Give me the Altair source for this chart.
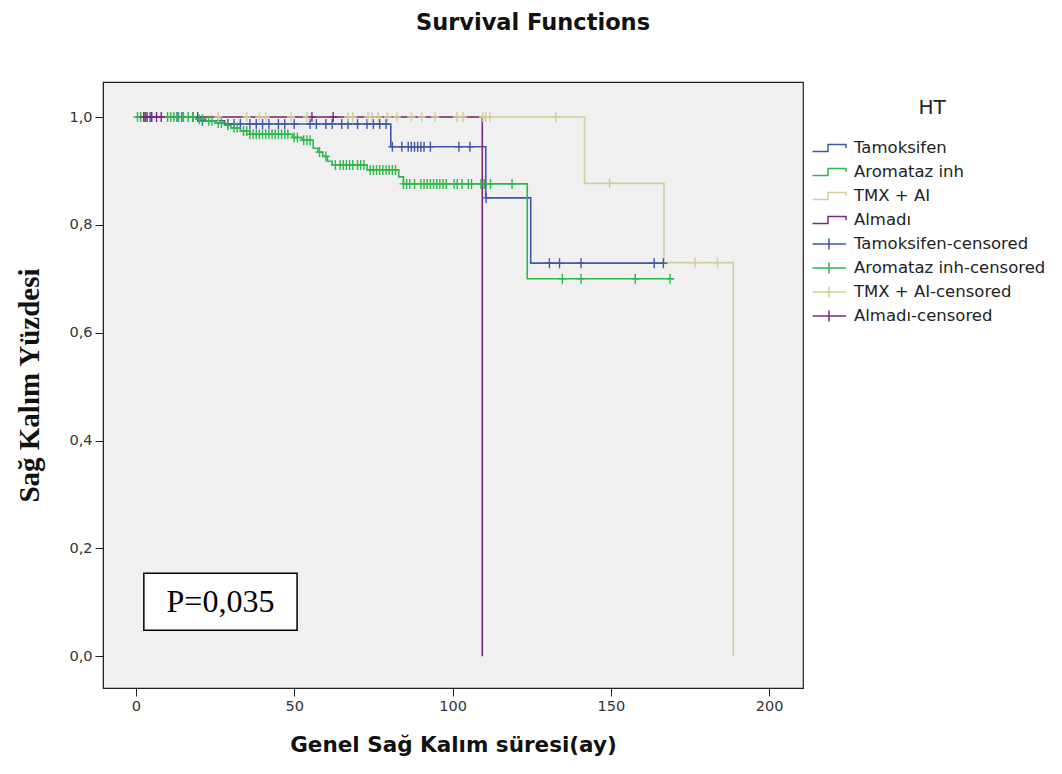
import altair as alt
import pandas as pd

# ---------------- data ----------------
groups = ["Tamoksifen", "Aromataz inh", "TMX + AI", "Almadı"]
colors = ["#3E58AC", "#2EB848", "#D3CE97", "#7C287D"]

tam_t = [0, 21, 28, 80.5, 110.5, 124.7, 167.7]
tam_s = [1.0, 0.993, 0.987, 0.945, 0.850, 0.729, 0.729]

aro_t = [0, 19, 22, 25, 28, 30, 33, 36, 49.5, 52.5, 56, 57.5, 59, 60.5, 62, 73, 83, 84.5, 123.6, 169.8]
aro_s = [1.0, 0.996, 0.993, 0.989, 0.985, 0.980, 0.974, 0.968, 0.962, 0.957, 0.942, 0.935,
         0.927, 0.918, 0.911, 0.902, 0.889, 0.876, 0.700, 0.700]

tmx_t = [0, 141.7, 166.8, 188.7]
tmx_s = [1.0, 0.877, 0.730, 0.0]

alm_t = [0, 109.4]
alm_s = [1.0, 0.0]

tam_cens = [3, 4.5, 13, 14.5, 18, 19.5, 21, 29, 31, 33, 36, 38, 40, 42, 45, 47, 50, 55, 57, 60,
            62, 65, 67, 70, 73, 75, 77, 79, 81, 84, 86, 87, 88, 89, 90, 91, 93, 102, 105.5,
            110.6, 130.6, 133.8, 140.6, 163.7, 166.6]
aro_cens = [0.5, 1.5, 2.5, 10, 11, 12, 13.5, 15, 16.5, 18, 20, 21, 23, 24, 26, 27, 29, 31, 32,
            34, 35, 36, 37, 38, 39, 40, 41, 42, 43, 44, 45, 46, 47, 48, 50, 51, 53, 54, 55, 58,
            60, 63, 64.5, 65.5, 66.5, 67.5, 68.5, 70, 71, 72, 74, 75, 76, 77, 78, 79, 80, 81,
            82, 84.5, 85.5, 86.5, 88, 90, 91, 92, 93, 94, 95, 96, 97, 98, 100.5, 101.5, 103,
            105, 106, 109, 110, 112, 118.8, 134.7, 140.6, 157.7, 168.7]
tmx_cens = [26, 35, 39, 41, 49, 54, 67, 68.5, 73.3, 74.5, 76.5, 79.5, 82.4, 87, 90.3, 94.5,
            101.4, 103.3, 109.6, 110.5, 111.8, 132.6, 149.6, 176.6, 183.7]
alm_cens = [2.5, 3.5, 5, 6.5, 8, 55.6, 62.3]

legend_entries = groups + [g + "-censored" for g in groups]

p_text = "P=0,035"
p_box_x = [2.5, 50.9]
p_box_y = [0.048, 0.154]
p_text_pos = [26.7, 0.101]

# ---------------- tables ----------------
curves = [(tam_t, tam_s), (aro_t, aro_s), (tmx_t, tmx_s), (alm_t, alm_s)]
cens = [tam_cens, aro_cens, tmx_cens, alm_cens]

line_rows, cens_rows = [], []
for gi, (g, (ts, ss)) in enumerate(zip(groups, curves)):
    for i, (t, s) in enumerate(zip(ts, ss)):
        line_rows.append({"group": g, "t": t, "s": s, "idx": i, "gi": gi})
    for c in cens[gi]:
        val = ss[0]
        for t, s in zip(ts, ss):
            if t <= c:
                val = s
        cens_rows.append({"group": g, "t": c, "s": val, "gi": gi})

lines_df = pd.DataFrame(line_rows)
cens_df = pd.DataFrame(cens_rows)
legend_df = pd.DataFrame({"entry": legend_entries, "t": [0] * 8, "s": [5] * 8})

x_scale = alt.Scale(domain=[-10.4, 210.7], nice=False, zero=False)
y_scale = alt.Scale(domain=[-0.059, 1.065], nice=False, zero=False)
color_scale = alt.Scale(domain=groups, range=colors)

step_path = "M-1.75,0.35L-0.2,0.35L-0.2,-0.35L1.6,-0.35L1.6,0"
cross_legend = "M-1.75,0L1.6,0M-0.1,-0.55L-0.1,0.55"
cross_mark = "M0,-1L0,1M-0.8,0L0.8,0"

x_enc = alt.X("t:Q", scale=x_scale,
              axis=alt.Axis(values=[0, 50, 100, 150, 200], format="d",
                            title="Genel Sağ Kalım süresi(ay)", titleFont="DejaVu Sans",
                            titleFontSize=21.5, titleFontWeight="bold", titlePadding=22))
y_enc = alt.Y("s:Q", scale=y_scale,
              axis=alt.Axis(values=[0, 0.2, 0.4, 0.6, 0.8, 1.0],
                            labelExpr="replace(format(datum.value, '.1f'), '.', ',')",
                            title="Sağ Kalım Yüzdesi", titleFont="Liberation Serif",
                            titleFontSize=29, titleFontWeight="bold", titlePadding=24))

lines = alt.Chart(lines_df).mark_line(interpolate="step-after", strokeWidth=1.6).encode(
    x=x_enc, y=y_enc,
    color=alt.Color("group:N", scale=color_scale, legend=None),
    detail="group:N",
    order="idx:Q",
)

censored = alt.Chart(cens_df).mark_point(shape=cross_mark, filled=False, size=100,
                                          strokeWidth=1.4, opacity=1).encode(
    x="t:Q", y="s:Q",
    color=alt.Color("group:N", scale=color_scale, legend=None),
)

legend_layer = alt.Chart(legend_df).mark_point(filled=False, strokeWidth=1.5, opacity=1,
                                               clip=True).encode(
    x="t:Q", y="s:Q",
    color=alt.Color("entry:N", scale=alt.Scale(domain=legend_entries, range=colors + colors),
                    title="HT"),
    shape=alt.Shape("entry:N", scale=alt.Scale(domain=legend_entries,
                                                range=[step_path] * 4 + [cross_legend] * 4),
                    title="HT"),
)

box_df = pd.DataFrame({"x1": [p_box_x[0]], "x2": [p_box_x[1]],
                       "y1": [p_box_y[0]], "y2": [p_box_y[1]],
                       "tx": [p_text_pos[0]], "ty": [p_text_pos[1]], "label": [p_text]})
box = alt.Chart(box_df).mark_rect(fill="white", stroke="black", strokeWidth=1.5).encode(
    x="x1:Q", x2="x2:Q", y="y1:Q", y2="y2:Q")
box_text = alt.Chart(box_df).mark_text(font="Liberation Serif", fontSize=32, color="black",
                                       align="center", baseline="middle").encode(
    x="tx:Q", y="ty:Q", text="label:N")

chart = alt.layer(lines, censored, legend_layer, box, box_text).resolve_scale(
    color="independent", shape="independent"
).properties(
    width=700, height=606,
    autosize=alt.AutoSizeParams(type="none"),
    padding={"left": 95, "top": 74, "right": 251, "bottom": 78},
    title=alt.TitleParams("Survival Functions", font="DejaVu Sans", fontSize=22.5,
                          fontWeight="bold", color="#111", anchor="middle", frame="group",
                          dx=80, offset=48),
).configure(
    background="white",
).configure_view(
    fill="#F0F0F0", stroke="#222", strokeWidth=1.2,
).configure_axis(
    grid=False, domainColor="#222", tickColor="#222", tickSize=8,
    labelFont="DejaVu Sans", labelFontSize=14.5, labelColor="#333", labelPadding=3,
    titleColor="#111",
).configure_legend(
    orient="none", legendX=716, legendY=16, padding=0,
    titleFont="DejaVu Sans", titleFontSize=20, titleFontWeight="normal",
    titleColor="#222", titleAnchor="middle", titlePadding=19,
    labelFont="DejaVu Sans", labelFontSize=16.5, labelColor="#222", labelOffset=13,
    symbolSize=400, symbolStrokeWidth=1.5, rowPadding=4.0, labelLimit=400,
)

chart.save("out.html", embed_options={"renderer": "svg", "actions": False})
